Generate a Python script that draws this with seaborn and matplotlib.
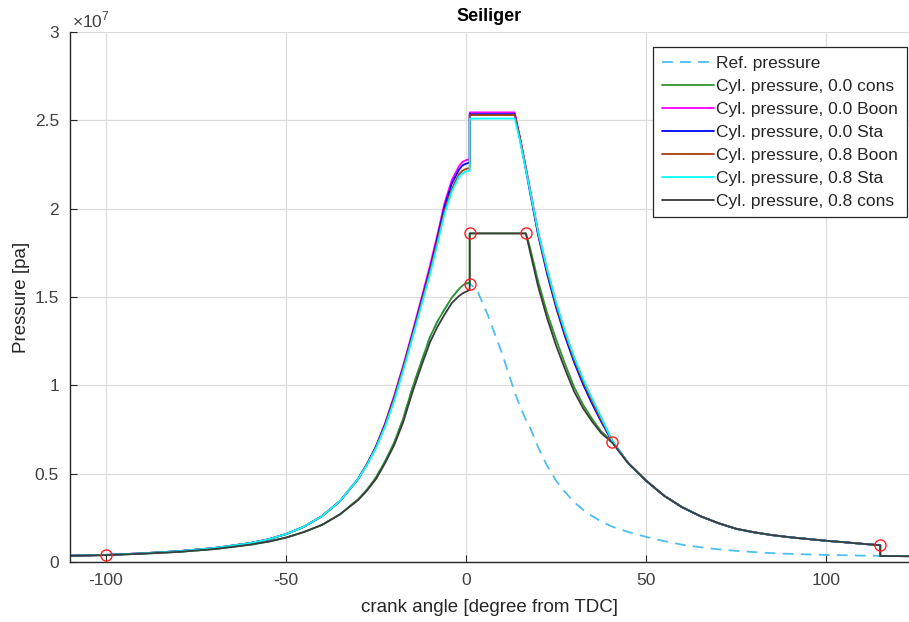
import numpy as np
import pandas as pd
import matplotlib
matplotlib.use("Agg")
import matplotlib.pyplot as plt
import seaborn as sns
from matplotlib.ticker import FuncFormatter

# crank angle grid [deg from TDC] (duplicated entries mark vertical steps)
theta = [-110, -100, -90, -80, -70, -60, -55, -50, -45, -40, -35, -30, -27.5, -25, -22.5,
         -20, -17.5, -15, -12.5, -10, -8, -6, -4, -2, -1, 0, 1, 1, 3, 6, 10, 13.5, 15, 16.6,
         17.5, 20, 22.5, 25, 27.5, 30, 32.5, 35, 37.5, 40.6, 45, 50, 55, 60, 65, 70, 75, 80,
         85, 90, 95, 100, 105, 110, 115, 115, 123]

# pressures in units of 1e6 Pa
ref_p = [0.35, 0.39, 0.47, 0.57, 0.73, 0.98, 1.15, 1.38, 1.7, 2.1, 2.7, 3.55, 4.1, 4.8, 5.7,
         6.75, 8.1, 9.8, 11.3, 12.75, 13.6, 14.3, 14.95, 15.45, 15.65, 15.75, 15.75, 15.75, 15.4, 14.0, 11.8, 9.6, 8.8, 8.05,
         7.75, 6.5, 5.45, 4.6, 3.95, 3.4, 2.95, 2.6, 2.3, 2.0, 1.7, 1.42, 1.18, 0.98, 0.84, 0.72, 0.63, 0.56,
         0.5, 0.46, 0.43, 0.40, 0.38, 0.36, 0.35, 0.35, 0.33]

cons00 = [0.35, 0.39, 0.47, 0.57, 0.73, 0.98, 1.15, 1.38, 1.7, 2.1, 2.7, 3.55, 4.1, 4.8, 5.7,
          6.75, 8.1, 9.8, 11.3, 12.75, 13.6, 14.3, 14.95, 15.45, 15.65, 15.78, 15.8, 18.6, 18.6, 18.6, 18.6, 18.6, 18.6, 18.6,
          18.0, 15.9, 14.1, 12.6, 11.2, 9.9, 8.9, 8.1, 7.4, 6.8, 5.6, 4.6, 3.75, 3.1, 2.6, 2.2, 1.88, 1.68,
          1.52, 1.4, 1.3, 1.2, 1.12, 1.03, 0.95, 0.34, 0.33]

boon00 = [0.36, 0.40, 0.49, 0.61, 0.79, 1.07, 1.28, 1.58, 2.0, 2.6, 3.45, 4.7, 5.55, 6.55, 7.85,
          9.4, 11.1, 12.95, 14.85, 16.8, 18.5, 20.3, 21.6, 22.4, 22.65, 22.75, 22.8, 25.45, 25.45, 25.45, 25.45, 25.45, 24.0, 22.35,
          21.4, 18.7, 16.55, 14.65, 13.0, 11.55, 10.3, 9.2, 8.15, 6.85, 5.6, 4.6, 3.75, 3.1, 2.6, 2.2, 1.88, 1.68,
          1.52, 1.4, 1.3, 1.2, 1.12, 1.03, 0.95, 0.34, 0.33]

sta00 = [0.36, 0.40, 0.49, 0.61, 0.79, 1.07, 1.28, 1.58, 2.0, 2.6, 3.45, 4.7, 5.55, 6.55, 7.8,
         9.3, 11.0, 12.8, 14.7, 16.6, 18.3, 20.1, 21.4, 22.2, 22.45, 22.55, 22.6, 25.35, 25.35, 25.35, 25.35, 25.35, 23.9, 22.2,
         21.2, 18.5, 16.3, 14.4, 12.75, 11.3, 10.05, 8.95, 7.95, 6.8, 5.6, 4.6, 3.75, 3.1, 2.6, 2.2, 1.88, 1.68,
         1.52, 1.4, 1.3, 1.2, 1.12, 1.03, 0.95, 0.34, 0.33]

boon08 = [0.36, 0.40, 0.49, 0.61, 0.79, 1.07, 1.28, 1.58, 2.0, 2.6, 3.45, 4.7, 5.55, 6.5, 7.75,
          9.25, 10.95, 12.75, 14.6, 16.5, 18.15, 19.9, 21.1, 21.95, 22.15, 22.25, 22.3, 25.3, 25.3, 25.3, 25.3, 25.3, 23.95, 22.3,
          21.3, 18.6, 16.45, 14.55, 12.9, 11.45, 10.2, 9.1, 8.05, 6.85, 5.6, 4.6, 3.75, 3.1, 2.6, 2.2, 1.88, 1.68,
          1.52, 1.4, 1.3, 1.2, 1.12, 1.03, 0.95, 0.34, 0.33]

sta08 = [0.36, 0.40, 0.49, 0.61, 0.79, 1.07, 1.28, 1.58, 2.0, 2.6, 3.45, 4.7, 5.5, 6.45, 7.65,
         9.1, 10.8, 12.6, 14.45, 16.3, 17.95, 19.7, 20.95, 21.8, 22.0, 22.1, 22.15, 25.1, 25.1, 25.1, 25.1, 25.1, 23.8, 22.2,
         21.3, 18.7, 16.6, 14.7, 13.05, 11.6, 10.35, 9.25, 8.2, 6.85, 5.6, 4.6, 3.75, 3.1, 2.6, 2.2, 1.88, 1.68,
         1.52, 1.4, 1.3, 1.2, 1.12, 1.03, 0.95, 0.34, 0.33]

cons08 = [0.35, 0.39, 0.47, 0.57, 0.73, 0.98, 1.15, 1.38, 1.7, 2.1, 2.7, 3.5, 4.05, 4.7, 5.6,
          6.6, 7.9, 9.55, 11.05, 12.45, 13.3, 14.0, 14.65, 15.05, 15.2, 15.3, 15.4, 18.6, 18.6, 18.6, 18.6, 18.6, 18.6, 18.6,
          17.8, 15.6, 13.8, 12.25, 10.9, 9.65, 8.7, 7.95, 7.3, 6.75, 5.6, 4.6, 3.75, 3.1, 2.6, 2.2, 1.88, 1.68,
          1.52, 1.4, 1.3, 1.2, 1.12, 1.03, 0.95, 0.34, 0.33]

# Seiliger cycle points
pt_theta = [-100, 1, 1, 16.6, 40.6, 115]
pt_p = [0.38, 15.75, 18.6, 18.6, 6.8, 0.95]

labels = ["Ref. pressure", "Cyl. pressure, 0.0 cons", "Cyl. pressure, 0.0 Boon",
          "Cyl. pressure, 0.0 Sta", "Cyl. pressure, 0.8 Boon", "Cyl. pressure, 0.8 Sta",
          "Cyl. pressure, 0.8 cons"]
series = [ref_p, cons00, boon00, sta00, boon08, sta08, cons08]
colors = ["#4DBEEE", "#2E962E", "#FF00FF", "#0000FF", "#A8400F", "#00FFFF", "#3C3C3C"]

sns.set_theme(style="whitegrid")
plt.rcParams["font.family"] = ["Liberation Sans", "DejaVu Sans"]
plt.rcParams["mathtext.fontset"] = "custom"
plt.rcParams["mathtext.rm"] = "Liberation Sans"
plt.rcParams["axes.unicode_minus"] = False

fig = plt.figure(figsize=(9.09, 6.22), dpi=100)
ax = fig.add_axes([70 / 909, 60 / 622, 839 / 909, 530 / 622])

for lab, vals, col in zip(labels, series, colors):
    df = pd.DataFrame({"theta": theta, "p": np.array(vals) * 1e6})
    kw = dict(dashes=(6, 4)) if lab.startswith("Ref") else {}
    sns.lineplot(data=df, x="theta", y="p", ax=ax, estimator=None, sort=False,
                 color=col, lw=1.3, label=lab, **kw)

pts = pd.DataFrame({"theta": pt_theta, "p": np.array(pt_p) * 1e6})
ax.plot(pts["theta"], pts["p"], "o", mfc="none", mec="#FF2020", ms=8, mew=1.0, zorder=5)

ax.set_xlim(-110, 123)
ax.set_ylim(0, 3e7)
ax.set_xticks([-100, -50, 0, 50, 100])
ax.set_yticks(np.arange(0, 3.01e7, 0.5e7))
ax.yaxis.set_major_formatter(FuncFormatter(lambda v, p: f"{v / 1e7:g}"))
ax.grid(True, color="#DCDCDC", lw=0.9)
ax.set_facecolor("white")
for s in ["top", "right"]:
    ax.spines[s].set_visible(False)
for s in ["left", "bottom"]:
    ax.spines[s].set_color("#262626")
    ax.spines[s].set_linewidth(1.0)
ax.tick_params(axis="both", direction="in", length=5, width=0.8, colors="#262626",
               labelsize=12.5, pad=8, left=True, bottom=True)
ax.tick_params(axis="both", labelcolor="#404040")

ax.set_xlabel("crank angle [degree from TDC]", fontsize=13.5, color="#262626", labelpad=8)
ax.set_ylabel("Pressure [pa]", fontsize=13.5, color="#262626", labelpad=3)
ax.set_title("Seiliger", fontsize=13, fontweight="bold", color="#000000", pad=8)
fig.text(72 / 909, 1 - 20 / 622, r"$\times 10^{7}$", fontsize=12.5, color="#404040",
         va="center", ha="left")

leg = ax.legend(loc="upper right", bbox_to_anchor=(907 / 909, 1 - 47 / 622),
                bbox_transform=fig.transFigure, borderaxespad=0, frameon=True,
                fancybox=False, edgecolor="#262626", fontsize=12.5, handlelength=3.0,
                handletextpad=0.15, labelspacing=0.45, borderpad=0.5, framealpha=1)
leg.get_frame().set_linewidth(0.9)
for t in leg.get_texts():
    t.set_color("#262626")

fig.savefig("out.png", dpi=100)
